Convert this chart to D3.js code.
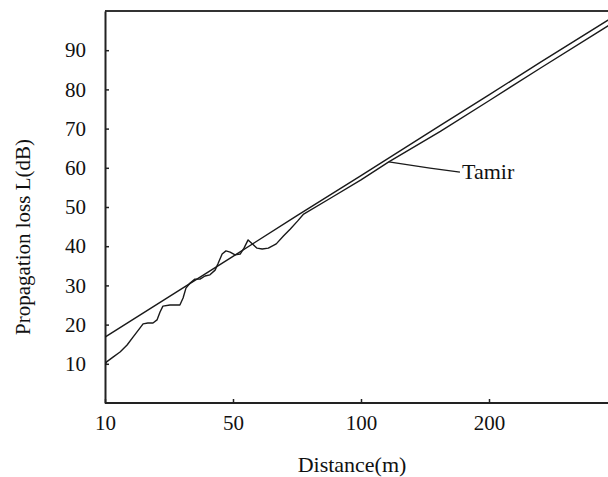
<!DOCTYPE html>
<html>
<head>
<meta charset="utf-8">
<script src="https://cdn.jsdelivr.net/npm/d3@7"></script>
<style>
    body { margin: 0; background: #ffffff; }
    text { font-family: "Liberation Serif", "Times New Roman", serif; fill: #111; }
</style>
</head>
<body>
<div id="chart"></div>
<script>
// Axis ticks
const xTicks = [10, 50, 100, 200];
const xBreaks = [10, 50, 100, 200, 300];   // equally spaced on the axis
const yTicks = [10, 20, 30, 40, 50, 60, 70, 80, 90];

// Straight model line
const modelDist = [10, 50, 75, 100, 162, 200, 240, 295];
const modelLoss = [16.8, 37.4, 47.8, 58.0, 70.8, 78.6, 86.9, 98.1];

// Tamir curve (wiggly part then smooth)
const tamirDist = [10, 10.5, 12.5, 14.7, 16.9, 18.75, 20.9, 21.9, 23.4, 25.0,
    26.25, 27.2, 28.1, 30.3, 33.4, 34.4, 35.3, 36.6, 38.1, 39.7,
    41.25, 42.8, 44.4, 45.3, 46.6, 47.8, 49.1, 50.8, 52.8, 54.3,
    55.9, 57.5, 59.4, 61.4, 63.8, 66.9, 69.7, 72.4, 75.2, 77.6,
    88.2, 100, 121.7, 162, 200, 240, 295];
const tamirLoss = [9.7, 10.5, 11.7, 13.0, 14.8, 16.8, 19.1, 20.2, 20.4, 20.4,
    21.2, 23.2, 24.7, 25.0, 25.0, 26.8, 29.3, 30.6, 31.6, 31.6,
    32.4, 32.7, 33.9, 35.5, 38.0, 38.8, 38.5, 37.8, 38.0, 39.5,
    41.6, 40.6, 39.5, 39.3, 39.5, 40.6, 42.6, 44.4, 46.4, 48.2,
    52.3, 56.9, 61.5, 69.3, 77.1, 85.4, 96.6];

// Label leader: anchor on the curve, bend, end, text position
const leaderDist = [121.7, 153.9, 177.3];
const leaderLoss = [61.5, 59.9, 58.9];
const labelText = 'Tamir';
const labelDist = 178.9;
const labelLoss = 57.1;

const width = 608, height = 477;
const margin = { top: 11, left: 105, bottom: 74 };
const step = 128;

const svg = d3.select('#chart').append('svg')
    .attr('width', width)
    .attr('height', height);

const x = d3.scaleLinear()
    .domain(xBreaks)
    .range(xBreaks.map((d, i) => margin.left + i * step));

const y = d3.scaleLinear()
    .domain([0, 100])
    .range([height - margin.bottom, margin.top]);

svg.append('clipPath').attr('id', 'plot-clip')
    .append('rect')
    .attr('x', margin.left)
    .attr('y', margin.top)
    .attr('width', width - margin.left)
    .attr('height', height - margin.bottom - margin.top);

// Frame top line
svg.append('line')
    .attr('x1', margin.left)
    .attr('x2', width)
    .attr('y1', margin.top)
    .attr('y2', margin.top)
    .attr('stroke', '#333')
    .attr('stroke-width', 2);

// Axes
const xAxis = svg.append('g')
    .attr('transform', `translate(0,${y(0)})`)
    .call(d3.axisBottom(x).tickValues(xTicks).tickSize(-4).tickPadding(12).tickSizeOuter(0));
xAxis.select('.domain').attr('d', `M${margin.left},0H${width}`);

const yAxis = svg.append('g')
    .attr('transform', `translate(${margin.left},0)`)
    .call(d3.axisLeft(y).tickValues(yTicks).tickSize(-4).tickPadding(19).tickSizeOuter(0));

[xAxis, yAxis].forEach(a => {
    a.select('.domain').attr('stroke', '#222').attr('stroke-width', 2);
    a.selectAll('.tick line').attr('stroke', '#222').attr('stroke-width', 1.5);
    a.selectAll('.tick text')
        .attr('font-family', '"Liberation Serif", "Times New Roman", serif')
        .attr('font-size', '21px')
        .attr('fill', '#111');
});

// Lines
const line = d3.line()
    .x(d => x(d[0]))
    .y(d => y(d[1]));

const plot = svg.append('g').attr('clip-path', 'url(#plot-clip)');

plot.append('path')
    .datum(d3.zip(modelDist, modelLoss))
    .attr('d', line)
    .attr('fill', 'none')
    .attr('stroke', '#1a1a1a')
    .attr('stroke-width', 1.4);

plot.append('path')
    .datum(d3.zip(tamirDist, tamirLoss))
    .attr('d', line)
    .attr('fill', 'none')
    .attr('stroke', '#1a1a1a')
    .attr('stroke-width', 1.4)
    .attr('stroke-linejoin', 'round');

// Leader + label
svg.append('path')
    .datum(d3.zip(leaderDist, leaderLoss))
    .attr('d', line)
    .attr('fill', 'none')
    .attr('stroke', '#1a1a1a')
    .attr('stroke-width', 1.3);

svg.append('text')
    .attr('x', x(labelDist))
    .attr('y', y(labelLoss))
    .attr('font-size', '22px')
    .text(labelText);

// Axis titles
svg.append('text')
    .attr('x', (x(50) + x(200)) / 2 - 9)
    .attr('y', 472)
    .attr('text-anchor', 'middle')
    .attr('font-size', '22px')
    .text('Distance(m)');

svg.append('text')
    .attr('transform', `translate(30,${237}) rotate(-90)`)
    .attr('text-anchor', 'middle')
    .attr('font-size', '21px')
    .text('Propagation loss L(dB)');
</script>
</body>
</html>
